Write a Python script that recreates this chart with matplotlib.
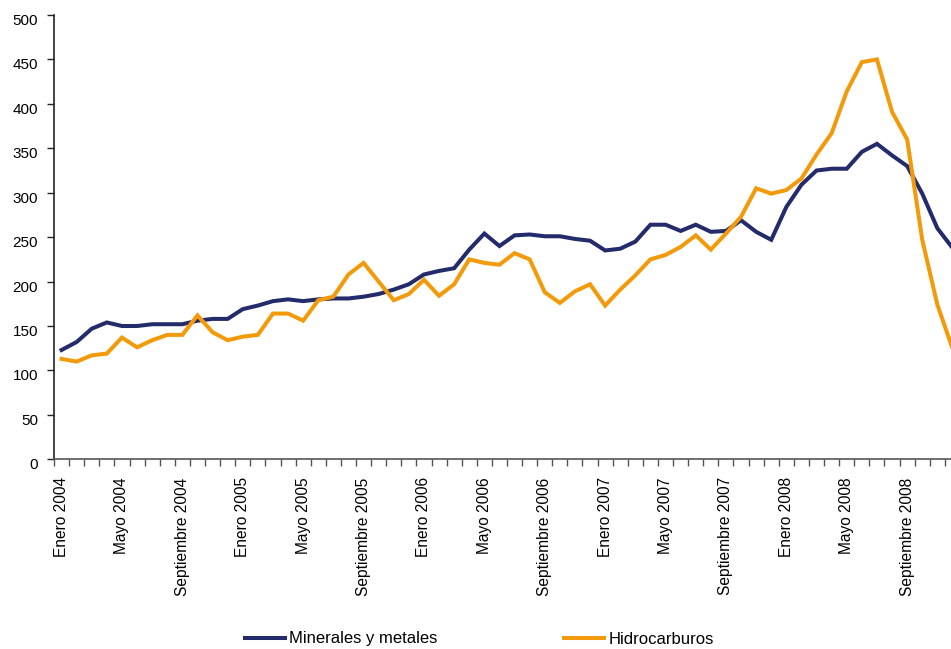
import matplotlib
matplotlib.use("Agg")
import matplotlib.pyplot as plt
from matplotlib.ticker import FixedLocator
from matplotlib.transforms import ScaledTranslation

plt.rcParams['font.family'] = ['Liberation Sans', 'DejaVu Sans']

# Monthly index values, Jan 2004 - Dec 2008
months = ["Enero", "Febrero", "Marzo", "Abril", "Mayo", "Junio", "Julio",
          "Agosto", "Septiembre", "Octubre", "Noviembre", "Diciembre"]
years = [2004, 2005, 2006, 2007, 2008]
categories = [f"{m} {y}" for y in years for m in months]

minerales = [123, 132, 147, 154, 150, 150, 152, 152, 152, 156,
             158, 158, 169, 173, 178, 180, 178, 180, 181, 181,
             183, 186, 191, 197, 208, 212, 215, 236, 254, 240,
             252, 253, 251, 251, 248, 246, 235, 237, 245, 264,
             264, 257, 264, 256, 257, 269, 256, 247, 284, 309,
             325, 327, 327, 346, 355, 342, 330, 299, 260, 238]

hidrocarburos = [113, 110, 117, 119, 137, 126, 134, 140, 140, 162,
                 143, 134, 138, 140, 164, 164, 156, 179, 183, 208,
                 221, 200, 179, 186, 202, 184, 197, 225, 221, 219,
                 232, 225, 188, 176, 189, 197, 173, 191, 207, 225,
                 230, 239, 252, 236, 254, 273, 305, 299, 303, 316,
                 343, 367, 414, 447, 450, 391, 360, 247, 174, 125]

y_ticks = list(range(0, 501, 50))

W, H = 951, 649
fig = plt.figure(figsize=(W / 100, H / 100), dpi=100)
left_px, right_px, top_px, bottom_px = 54, 960, 15, 459.3
ax = fig.add_axes([left_px / W, (H - bottom_px) / H,
                   (right_px - left_px) / W, (bottom_px - top_px) / H])

x = list(range(len(categories)))
ax.plot(x, minerales, color="#242B6B", lw=2.9, label="Minerales y metales",
        solid_joinstyle="miter")
ax.plot(x, hidrocarburos, color="#F39A0A", lw=2.9, label="Hidrocarburos",
        solid_joinstyle="miter")

ax.set_xlim(-0.5, len(categories) - 0.5)
ax.set_ylim(0, 500)
ax.set_yticks(y_ticks)
ax.set_yticklabels([str(v) for v in y_ticks])

label_idx = list(range(0, len(categories), 4))
ax.set_xticks(label_idx)
ax.set_xticklabels([categories[i] for i in label_idx], rotation=90)
ax.xaxis.set_minor_locator(FixedLocator([i - 0.5 for i in range(len(categories) + 1)]))
ax.tick_params(axis="x", which="major", length=0, pad=13, labelsize=11.2)
ax.tick_params(axis="x", which="minor", length=5, width=1, color="#555555",
               direction="out")
ax.tick_params(axis="y", length=5, width=1, color="#222222", pad=6.5,
               labelsize=11)

# value labels sit a little below their tick marks
shift = ScaledTranslation(0, -4.5 / 100, fig.dpi_scale_trans)
for lbl in ax.get_yticklabels():
    lbl.set_transform(lbl.get_transform() + shift)

for s in ("top", "right"):
    ax.spines[s].set_visible(False)
ax.spines["left"].set_color("#222222")
ax.spines["bottom"].set_color("#555555")
ax.spines["left"].set_linewidth(1.2)
ax.spines["bottom"].set_linewidth(1.2)

fig.legend(loc="center left", bbox_to_anchor=(245 / W, 10 / H), ncol=2,
           frameon=False, fontsize=12, handlelength=2.4, handletextpad=0.25,
           columnspacing=7.6, borderpad=0, borderaxespad=0)

fig.savefig("out.png", dpi=100)
